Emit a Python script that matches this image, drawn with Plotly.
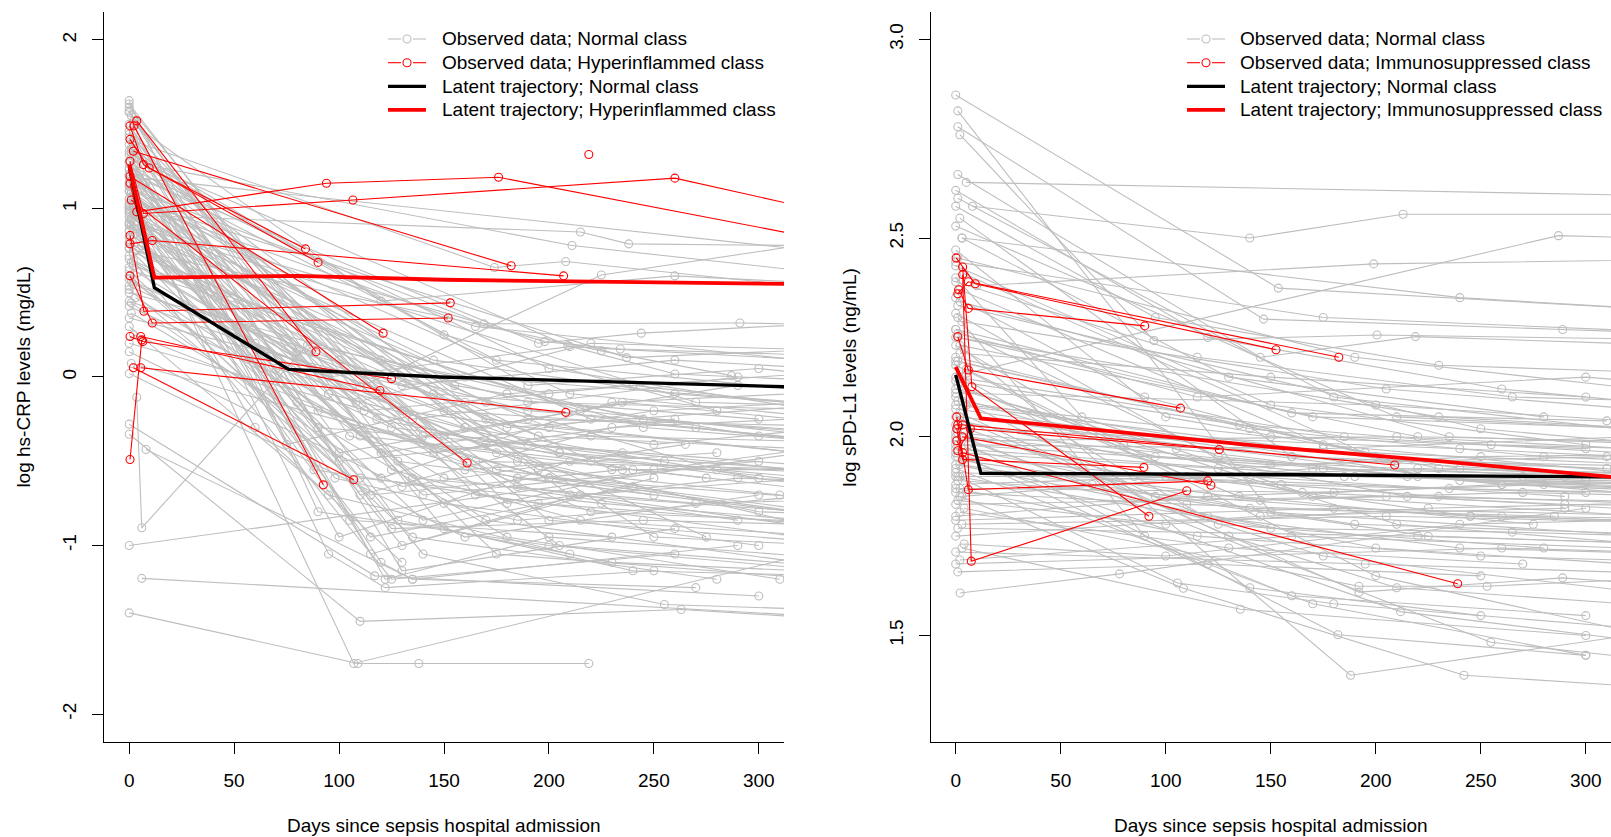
import plotly.graph_objects as go

# ---------------- hs-CRP panel (left) ----------------
# observed trajectories, one subject per inner list of (day, log value)
crp_normal = [
    [(0, 1.62), (118, -0.25), (240, -0.55), (420, -0.8)],
    [(0, 1.58), (95, -0.1), (205, -0.45), (380, -0.6)],
    [(1, 1.55), (130, -1.15), (260, -0.9)],
    [(0, 1.5), (110, -0.7), (230, -0.3), (400, -0.2)],
    [(2, 1.45), (140, -0.35), (290, -0.05)],
    [(0, 1.42), (60, 0.2), (175, -0.45), (330, -0.9)],
    [(3, 1.4), (122, -1.2), (200, -0.95), (360, -1.1)],
    [(0, 1.38), (88, -0.55), (195, -0.75), (410, -0.95)],
    [(1, 1.35), (150, 0.25), (280, -0.2)],
    [(0, 1.32), (115, -1.05), (250, -0.6)],
    [(4, 1.3), (160, -0.15), (340, -0.4)],
    [(0, 1.28), (75, -0.4), (180, -0.1), (360, 0.05)],
    [(2, 1.26), (128, -0.85), (230, -1.1), (410, -1.2)],
    [(0, 1.24), (200, 0.05), (380, -0.3)],
    [(5, 1.22), (100, -0.95), (210, -0.5)],
    [(0, 1.2), (135, -0.6), (270, -0.75), (420, -0.7)],
    [(1, 1.18), (170, -0.25), (320, -0.45)],
    [(0, 1.16), (120, -1.1), (135, -1.2), (290, -1.0)],
    [(3, 1.15), (90, -0.3), (235, -0.45), (400, -0.65)],
    [(0, 1.13), (155, -0.05), (300, -0.35)],
    [(6, 1.12), (108, -0.15), (220, 0.2), (360, 0.15)],
    [(0, 1.1), (125, -0.9), (245, -0.85), (400, -0.9)],
    [(2, 1.08), (80, 0.15), (190, -0.2), (350, -0.35)],
    [(0, 1.06), (140, -1.05), (255, -1.35), (380, -1.4)],
    [(1, 1.05), (210, -0.1), (340, -0.25)],
    [(0, 1.03), (98, -0.6), (185, -0.85), (330, -0.7)],
    [(4, 1.02), (165, 0.3), (320, 0.1)],
    [(0, 1.0), (112, -0.2), (240, -0.05), (420, -0.3)],
    [(0, 0.98), (130, -1.0), (215, -0.7), (380, -0.55)],
    [(2, 0.97), (70, 0.05), (160, -0.3), (300, -0.6)],
    [(0, 0.95), (190, -0.4), (350, -0.55)],
    [(5, 0.94), (145, 0.1), (260, -0.1), (420, -0.25)],
    [(0, 0.92), (105, -0.85), (230, -0.95)],
    [(1, 0.9), (175, -0.55), (330, -0.8)],
    [(0, 0.86), (120, -0.45), (250, -0.2), (400, -0.1)],
    [(3, 0.85), (90, -0.2), (200, -0.6), (380, -0.9)],
    [(0, 0.83), (150, -0.75), (300, -1.0)],
    [(0, 0.8), (160, -0.55), (280, -0.45)],
    [(6, 0.78), (135, -0.25), (290, 0.0)],
    [(0, 0.76), (110, -0.6), (225, -0.75), (420, -0.95)],
    [(2, 0.74), (200, -0.3), (360, -0.5)],
    [(0, 0.72), (125, -1.2), (260, -1.05)],
    [(0, 0.7), (95, 0.0), (210, 0.18), (400, 0.05)],
    [(1, 0.68), (185, -0.65), (330, -0.9)],
    [(0, 0.65), (140, -0.4), (275, -0.6)],
    [(4, 0.62), (245, -0.3), (400, -0.45)],
    [(0, 0.6), (100, -0.5), (220, -0.35), (380, -0.4)],
    [(0, 0.58), (170, -0.85), (320, -1.1)],
    [(2, 0.55), (130, -0.05), (260, 0.1), (400, 0.0)],
    [(0, 0.52), (115, -0.7), (235, -0.55)],
    [(0, 0.5), (190, -0.15), (350, -0.2)],
    [(3, 0.47), (150, -0.6), (290, -0.85)],
    [(0, 0.45), (205, -0.45), (380, -0.7)],
    [(0, 0.42), (125, -0.3), (255, -0.5)],
    [(1, 0.38), (180, -0.95), (310, -1.2)],
    [(0, 0.35), (145, -0.1), (300, -0.25)],
    [(0, 0.3), (95, -0.7), (210, -1.05)],
    [(2, 0.25), (220, -0.8), (400, -0.9)],
    [(0, 0.2), (170, -0.4), (330, -0.65)],
    [(0, 0.15), (130, -0.65), (265, -0.4)],
    [(1, 0.08), (200, -0.6), (360, -0.75)],
    [(0, 0.02), (160, -0.95), (300, -0.7)],
    [(5, 1.18), (400, 0.65)],
    [(3, 0.96), (215, 0.86), (238, 0.79), (400, 0.77)],
    [(7, 1.26), (211, 0.78), (380, 0.55)],
    [(2, 1.4), (174, 0.65), (208, 0.685), (350, 0.5)],
    [(0, 0.9), (110, -0.06), (225, 0.605), (400, 0.93)],
    [(4, 1.1), (169, 0.315), (291, 0.32), (400, 0.3)],
    [(0, 1.2), (195, 0.2), (244, 0.26), (380, 0.35)],
    [(6, 0.9), (198, 0.21), (234, 0.166), (400, 0.1)],
    [(1, 1.3), (209, 0.186), (260, 0.018), (380, -0.05)],
    [(3, 0.75), (225, 0.155), (287, 0.008)],
    [(0, 1.05), (237, 0.115), (400, 0.2)],
    [(2, 1.5), (120, 0.45), (260, 0.6), (420, 0.5)],
    [(0, -1.4), (109, -1.7), (138, -1.7), (219, -1.7)],
    [(1, 1.1), (107, -1.7), (340, -1.0)],
    [(0, -1.0), (350, -0.4)],
    [(6, -1.195), (400, -1.47)],
    [(0, -0.28), (117, -1.18), (300, -1.3)],
    [(3.6, -0.12), (6, -0.895), (85, 0.19), (200, -0.1)],
    [(0, -0.34), (110, -1.45), (263, -1.38), (420, -1.5)],
    [(8, -0.43), (135, -1.2), (270, -1.25)],
    [(0, 1.46), (105, -0.35), (185, -0.6), (350, -0.85)],
    [(1, 1.36), (150, -0.9), (240, -1.15), (400, -1.2)],
    [(0, 1.27), (80, -0.15), (165, -0.5), (330, -0.55)],
    [(2, 1.21), (175, 0.1), (340, -0.1)],
    [(0, 1.11), (210, -0.7), (380, -0.85)],
    [(3, 1.07), (120, 0.1), (245, -0.25), (420, -0.4)],
    [(0, 0.99), (140, -0.7), (300, -0.5)],
    [(1, 0.93), (100, -0.45), (190, -0.25), (360, -0.3)],
    [(0, 0.87), (160, 0.0), (320, -0.15)],
    [(5, 0.82), (115, -0.95), (240, -0.65)],
    [(0, 0.77), (230, -0.55), (400, -0.55)],
    [(2, 0.69), (180, -0.3), (350, -0.15)],
    [(0, 0.63), (135, -0.95), (280, -1.2)],
    [(1, 0.57), (150, -0.2), (270, -0.3), (420, -0.5)],
    [(0, 1.64), (90, -0.8), (200, -1.0), (380, -1.2)],
    [(0, 1.6), (100, 0.1), (195, -0.35), (360, -0.45)],
    [(2, 1.52), (128, -0.5), (250, -0.7)],
    [(0, 1.44), (165, -0.7), (320, -0.95)],
    [(1, 1.33), (190, -0.05), (300, 0.05), (420, -0.1)],
    [(0, 1.23), (145, -0.45), (260, -0.25)],
    [(8, 1.15), (95, -1.05), (122, -1.25), (250, -1.15)],
    [(0, 1.02), (60, -0.3), (130, -1.1)],
    [(6, 0.96), (250, -0.95), (420, -1.05)],
    [(0, 0.91), (270, -0.15), (420, -0.2)],
    [(3, 0.8), (205, -1.0), (360, -1.15)],
    [(0, 1.57), (125, -0.55), (215, -0.85), (400, -1.0)],
    [(2, 1.37), (180, -0.75), (290, -0.6), (420, -0.65)],
    [(0, 1.19), (150, -0.35), (235, -0.15), (400, -0.35)],
    [(1, 1.09), (200, -0.85), (350, -1.0)],
    [(0, 0.97), (110, -0.35), (220, -0.5), (380, -0.6)],
    [(4, 0.88), (170, -0.15), (280, -0.55), (420, -0.7)],
    [(0, 0.79), (140, -0.85), (250, -0.55), (400, -0.3)],
    [(2, 0.66), (215, -0.2), (330, -0.35)],
    [(0, 0.54), (185, -0.5), (300, -0.8), (420, -0.85)],
    [(1, 0.44), (120, -0.6), (230, -0.15), (400, -0.05)],
    [(0, 1.34), (160, -0.3), (275, -0.95)],
    [(3, 1.25), (195, -0.55), (310, -0.7), (420, -0.8)],
    [(0, 1.14), (130, -0.2), (250, -0.4), (380, -0.25)],
    [(0, 1.01), (175, -1.05), (330, -1.2)],
    [(1, 0.94), (220, -0.25), (400, -0.45)],
]

crp_hyper = [
    [(0.4, 1.15), (3.6, 0.98), (94, 1.15), (176, 1.185), (360, 0.745)],
    [(0.4, 1.28), (6.8, 0.97), (106.6, 1.05), (260, 1.18), (350, 0.93)],
    [(0.4, 1.41), (9.5, 1.24), (84, 0.76)],
    [(0.4, 1.49), (6.8, 1.26), (90, 0.68)],
    [(2, 1.34), (182, 0.66)],
    [(0.4, 0.79), (11, 0.81), (207, 0.6)],
    [(0.4, 0.84), (7, 0.39), (153, 0.44)],
    [(0.4, 0.6), (11, 0.32), (152, 0.35)],
    [(0.4, 1.19), (121, 0.26)],
    [(3.6, 1.52), (89, 0.15)],
    [(0.4, 0.24), (6.5, 0.21), (125, -0.01)],
    [(5.5, 0.24), (119.5, -0.08)],
    [(5.5, 0.055), (208, -0.21)],
    [(1, 1.05), (161, -0.51)],
    [(2.3, 1.49), (92.5, -0.64)],
    [(2, 0.055), (107, -0.61)],
    [(0.4, -0.49), (6, 0.22)],
    [(219, 1.32)],
]

crp_latent_days = [0, 12, 76, 148, 312]
crp_latent_normal = [1.25, 0.53, 0.045, 0.0, -0.058]
crp_latent_hyper_days = [0, 12, 80, 150, 312]
crp_latent_hyper = [1.26, 0.59, 0.60, 0.577, 0.552]

crp_ticks = [-2, -1, 0, 1, 2]
crp_ticktext = ["-2", "-1", "0", "1", "2"]

crp_legend = ["Observed data; Normal class",
              "Observed data; Hyperinflammed class",
              "Latent trajectory; Normal class",
              "Latent trajectory; Hyperinflammed class"]

# ---------------- sPD-L1 panel (right) ----------------
pdl1_normal = [
    [(1, 2.82), (150, 1.81), (330, 1.75)],
    [(5, 2.64), (400, 2.6)],
    [(8, 2.58), (140, 2.5), (213, 2.56), (400, 2.56)],
    [(5, 2.16), (287, 2.506), (400, 2.49)],
    [(10, 2.38), (199, 2.435), (400, 2.45)],
    [(0, 2.86), (153.6, 2.374), (400, 2.3)],
    [(1, 2.78), (146.6, 2.296), (289, 2.27), (400, 2.25)],
    [(2, 2.76), (94.4, 2.242), (200.6, 2.256), (400, 2.24)],
    [(1, 2.66), (145, 2.2), (218.9, 2.252), (400, 2.22)],
    [(2.1, 1.607), (78, 1.655), (300, 1.82)],
    [(3, 1.72), (135.5, 1.566), (300, 1.5)],
    [(4, 2.22), (188, 1.4), (400, 1.56)],
    [(2, 1.85), (108.4, 1.619), (242, 1.4), (330, 1.37)],
    [(6, 1.98), (182, 1.502), (300, 1.45)],
    [(3, 2.0), (254.8, 1.483), (400, 1.4)],
    [(1, 1.95), (211.8, 1.56), (380, 1.45)],
    [(4, 1.82), (192, 1.624), (253, 1.624), (400, 1.66)],
    [(0, 2.05), (192, 1.609), (289, 1.645), (400, 1.6)],
    [(1, 1.9), (105.6, 1.632), (180, 1.58), (320, 1.52)],
    [(0, 2.62), (120, 2.25), (260, 2.12), (400, 2.05)],
    [(1, 2.6), (180, 2.1), (350, 2.0)],
    [(0, 2.58), (95, 2.3), (230, 2.18), (400, 2.15)],
    [(2, 2.55), (160, 1.95), (320, 1.9)],
    [(0, 2.53), (210, 2.05), (400, 2.0)],
    [(3, 2.5), (130, 2.15), (280, 2.05)],
    [(0, 2.47), (100, 2.05), (240, 1.92), (400, 1.88)],
    [(1, 2.45), (190, 2.2), (360, 2.1)],
    [(0, 2.43), (150, 2.08), (300, 1.98)],
    [(4, 2.41), (220, 1.9), (400, 1.85)],
    [(0, 2.39), (115, 2.2), (265, 2.1), (400, 2.08)],
    [(2, 2.37), (175, 1.98), (340, 1.9)],
    [(0, 2.35), (90, 2.1), (200, 1.95), (380, 1.9)],
    [(1, 2.33), (250, 2.02), (400, 1.95)],
    [(0, 2.31), (140, 1.9), (290, 1.85)],
    [(3, 2.29), (205, 2.12), (370, 2.05)],
    [(0, 2.27), (125, 1.95), (260, 1.88), (400, 1.85)],
    [(1, 2.25), (170, 2.05), (330, 2.02)],
    [(0, 2.23), (80, 1.98), (215, 1.85), (380, 1.8)],
    [(2, 2.21), (150, 2.15), (300, 2.1)],
    [(0, 2.19), (230, 1.92), (400, 1.9)],
    [(5, 2.17), (110, 1.9), (245, 1.8), (400, 1.78)],
    [(0, 2.15), (185, 2.0), (350, 1.95)],
    [(1, 2.13), (135, 1.85), (275, 1.78)],
    [(0, 2.11), (200, 2.08), (380, 2.02)],
    [(3, 2.09), (95, 1.85), (225, 1.75), (400, 1.72)],
    [(0, 2.07), (160, 1.95), (310, 1.92)],
    [(2, 2.05), (260, 1.88), (400, 1.86)],
    [(0, 2.03), (120, 1.8), (240, 1.72), (380, 1.7)],
    [(1, 2.01), (175, 1.92), (340, 1.85)],
    [(0, 1.99), (210, 2.0), (400, 1.95)],
    [(4, 1.97), (140, 1.82), (285, 1.8)],
    [(0, 1.95), (100, 1.9), (230, 1.85), (400, 1.82)],
    [(2, 1.93), (190, 1.78), (360, 1.75)],
    [(0, 1.91), (155, 1.88), (300, 1.86)],
    [(1, 1.89), (245, 1.8), (400, 1.78)],
    [(0, 1.87), (115, 1.75), (250, 1.7), (380, 1.68)],
    [(3, 1.85), (170, 1.92), (330, 1.9)],
    [(0, 1.83), (205, 1.85), (400, 1.83)],
    [(2, 1.81), (130, 1.72), (270, 1.68)],
    [(0, 1.79), (180, 1.82), (350, 1.8)],
    [(1, 1.77), (220, 1.75), (400, 1.72)],
    [(0, 1.75), (145, 1.8), (290, 1.82)],
    [(4, 1.73), (100, 1.7), (240, 1.78), (400, 1.8)],
    [(0, 1.71), (195, 1.68), (370, 1.65)],
    [(2, 1.69), (160, 1.75), (320, 1.72)],
    [(0, 1.68), (260, 1.72), (400, 1.7)],
    [(1, 1.66), (120, 1.68), (250, 1.65)],
    [(0, 2.0), (65, 1.88), (175, 1.7), (340, 1.6)],
    [(3, 2.12), (210, 1.78), (400, 1.7)],
    [(0, 2.2), (140, 2.02), (280, 1.95), (420, 1.92)],
    [(1, 2.3), (90, 1.75), (160, 1.6), (300, 1.55)],
    [(0, 2.25), (230, 2.05), (400, 2.0)],
    [(2, 1.9), (270, 1.9), (420, 1.88)],
    [(0, 1.97), (185, 1.9), (360, 1.88)],
    [(5, 2.08), (150, 2.0), (300, 1.97)],
    [(0, 1.86), (110, 1.83), (260, 1.8), (400, 1.79)],
    [(1, 2.02), (240, 1.97), (400, 1.93)],
    [(0, 1.93), (200, 1.72), (380, 1.66)],
    [(3, 2.15), (125, 1.78), (280, 1.72)],
    [(0, 2.4), (60, 2.05), (170, 1.85), (330, 1.8)],
    [(2, 2.34), (235, 2.0), (400, 1.97)],
    [(0, 2.1), (95, 1.95), (290, 1.9)],
    [(1, 1.98), (150, 1.93), (310, 1.95)],
    [(0, 1.88), (220, 1.92), (380, 1.9)],
    [(4, 1.95), (140, 1.62), (250, 1.55)],
    [(0, 2.18), (200, 1.65), (330, 1.5)],
    [(2, 2.06), (130, 1.75), (210, 1.62), (400, 1.55)],
    [(0, 1.92), (170, 1.58), (300, 1.45)],
    [(1, 2.26), (115, 2.1), (300, 2.15), (420, 2.1)],
    [(0, 2.44), (175, 2.3), (400, 2.25)],
    [(3, 2.5), (240, 2.35), (400, 2.3)],
    [(0, 2.12), (105, 1.97), (215, 1.9), (400, 1.88)],
    [(2, 2.04), (165, 1.86), (290, 1.83), (420, 1.82)],
    [(0, 1.96), (125, 1.92), (250, 1.95), (400, 1.96)],
    [(1, 2.19), (195, 1.96), (330, 1.93)],
    [(0, 2.01), (85, 1.9), (235, 1.87), (400, 1.85)],
    [(3, 1.94), (145, 1.84), (270, 1.86), (420, 1.84)],
    [(0, 2.08), (210, 1.94), (380, 1.92)],
    [(2, 1.87), (180, 1.86), (300, 1.89), (400, 1.9)],
    [(0, 2.14), (135, 2.03), (255, 1.98), (400, 1.96)],
    [(1, 1.84), (100, 1.78), (225, 1.82), (380, 1.84)],
    [(0, 2.27), (160, 2.06), (310, 2.04)],
    [(4, 2.0), (190, 1.9), (400, 1.87)],
    [(0, 1.8), (120, 1.85), (280, 1.88), (420, 1.9)],
    [(2, 2.23), (220, 2.0), (400, 1.98)],
    [(0, 1.9), (150, 1.77), (265, 1.76), (400, 1.74)],
    [(1, 2.09), (240, 1.89), (420, 1.86)],
    [(0, 1.98), (175, 1.97), (320, 2.0)],
    [(3, 1.78), (205, 1.8), (380, 1.78)],
]

pdl1_immuno = [
    [(0.2, 2.45), (9.3, 2.385), (152.5, 2.219)],
    [(1, 2.36), (6, 2.39), (182.4, 2.2)],
    [(1.4, 2.37), (6, 2.323), (90, 2.279)],
    [(1, 2.252), (6, 2.168), (107, 2.072)],
    [(3.3, 2.408), (7.4, 1.687), (110, 1.864)],
    [(0.5, 2.05), (6, 1.867), (120, 1.889)],
    [(3, 2.0), (121.5, 1.878)],
    [(0.5, 2.02), (3.3, 1.943), (89.6, 1.923)],
    [(3.3, 2.427), (7.7, 2.126), (92, 1.8)],
    [(1, 1.965), (7, 2.02), (125.5, 1.968)],
    [(1, 2.03), (3.3, 2.03), (209, 1.929)],
    [(0.5, 1.99), (3.3, 1.96), (239, 1.63)],
]

pdl1_latent_days = [0, 12, 150, 312]
pdl1_latent_normal = [2.156, 1.908, 1.905, 1.899]
pdl1_latent_immuno_days = [0, 12, 148, 225, 312]
pdl1_latent_immuno = [2.176, 2.046, 1.975, 1.941, 1.899]

pdl1_ticks = [1.5, 2.0, 2.5, 3.0]
pdl1_ticktext = ["1.5", "2.0", "2.5", "3.0"]

pdl1_legend = ["Observed data; Normal class",
               "Observed data; Immunosuppressed class",
               "Latent trajectory; Normal class",
               "Latent trajectory; Immunosuppressed class"]

day_ticks = [0, 50, 100, 150, 200, 250, 300]
x_title = "Days since sepsis hospital admission"

GRAY = "#BEBEBE"
RED = "#FF0000"
FONT = "Arial, Liberation Sans, sans-serif"
W, H = 1611, 837


def flatten(subjects):
    xs, ys = [], []
    for subj in subjects:
        for d, v in subj:
            xs.append(d)
            ys.append(v)
        xs.append(None)
        ys.append(None)
    return xs, ys


def observed(subjects, color, name, xa, ya):
    xs, ys = flatten(subjects)
    return go.Scatter(
        x=xs, y=ys, mode="lines+markers", name=name, xaxis=xa, yaxis=ya,
        line=dict(color=color, width=1.1),
        marker=dict(symbol="circle-open", size=8, color=color, line=dict(width=1.1)),
        connectgaps=False, hoverinfo="skip", showlegend=False,
    )


def latent(days, vals, color, width, name, xa, ya):
    return go.Scatter(
        x=days, y=vals, mode="lines", name=name, xaxis=xa, yaxis=ya,
        line=dict(color=color, width=width), hoverinfo="skip", showlegend=False,
    )


def px(xp, yp):
    """pixel position (from top-left) -> paper coordinates"""
    return xp / W, 1 - yp / H


def legend_block(labels, key_left, text_left, row_tops):
    """R-style legend: key samples drawn as shapes, labels as text."""
    shapes, annots = [], []
    styles = [(GRAY, 1.1, True), (RED, 1.1, True), ("black", 3.3, False), (RED, 3.8, False)]
    for label, yc, (col, lw, circ) in zip(labels, row_tops, styles):
        cx = key_left + 19
        _, y = px(0, yc)
        if circ:
            for a, b in ((key_left, cx - 6), (cx + 6, key_left + 38)):
                shapes.append(dict(type="line", xref="paper", yref="paper",
                                   x0=a / W, x1=b / W, y0=y, y1=y,
                                   line=dict(color=col, width=lw)))
            shapes.append(dict(type="circle", xref="paper", yref="paper",
                               x0=(cx - 4) / W, x1=(cx + 4) / W,
                               y0=1 - (yc + 4) / H, y1=1 - (yc - 4) / H,
                               line=dict(color=col, width=1.1)))
        else:
            shapes.append(dict(type="line", xref="paper", yref="paper",
                               x0=key_left / W, x1=(key_left + 38) / W, y0=y, y1=y,
                               line=dict(color=col, width=lw)))
        annots.append(dict(text=label, x=text_left / W, y=y, xref="paper", yref="paper",
                           showarrow=False, xanchor="left", yanchor="middle",
                           font=dict(family=FONT, size=19, color="black")))
    return shapes, annots


fig = go.Figure()
fig.add_trace(observed(crp_normal, GRAY, crp_legend[0], "x", "y"))
fig.add_trace(observed(crp_hyper, RED, crp_legend[1], "x", "y"))
fig.add_trace(latent(crp_latent_days, crp_latent_normal, "black", 3.3, crp_legend[2], "x", "y"))
fig.add_trace(latent(crp_latent_hyper_days, crp_latent_hyper, RED, 3.8, crp_legend[3], "x", "y"))

fig.add_trace(observed(pdl1_normal, GRAY, pdl1_legend[0], "x2", "y2"))
fig.add_trace(observed(pdl1_immuno, RED, pdl1_legend[1], "x2", "y2"))
fig.add_trace(latent(pdl1_latent_days, pdl1_latent_normal, "black", 3.3, pdl1_legend[2], "x2", "y2"))
fig.add_trace(latent(pdl1_latent_immuno_days, pdl1_latent_immuno, RED, 3.8, pdl1_legend[3], "x2", "y2"))

y_dom = [(H - 742) / H, (H - 12.3) / H]

axis_common = dict(
    showline=True, linecolor="black", linewidth=1, mirror=False,
    ticks="outside", ticklen=11, tickwidth=1, tickcolor="black",
    showgrid=False, zeroline=False, automargin=False,
    tickfont=dict(family=FONT, size=19, color="black"),
)

rows = [39.0, 62.7, 86.3, 109.9]
s1, a1 = legend_block(crp_legend, 388, 440, rows)
s2, a2 = legend_block(pdl1_legend, 1187, 1238, rows)

titles = [
    dict(text=x_title, x=444 / W, y=(H - 825) / H),
    dict(text=x_title, x=1270.5 / W, y=(H - 825) / H),
    dict(text="log hs-CRP levels (mg/dL)", x=22.6 / W, y=1 - 377 / H, textangle=-90),
    dict(text="log sPD-L1 levels (ng/mL)", x=848.7 / W, y=1 - 377 / H, textangle=-90),
]
for t in titles:
    t.update(xref="paper", yref="paper", showarrow=False, xanchor="center",
             yanchor="middle", font=dict(family=FONT, size=19, color="black"))

fig.update_layout(
    width=W, height=H, autosize=False,
    margin=dict(l=0, r=0, t=0, b=0),
    paper_bgcolor="white", plot_bgcolor="white",
    font=dict(family=FONT, size=19, color="black"),
    showlegend=False,
    xaxis=dict(domain=[104 / W, 784 / W], range=[-12, 312], tickvals=day_ticks,
               anchor="y", ticklabelstandoff=10, **axis_common),
    yaxis=dict(domain=y_dom, range=[-2.166, 2.164], tickvals=crp_ticks, ticktext=crp_ticktext,
               tickangle=-90, anchor="x", ticklabelstandoff=8, **axis_common),
    xaxis2=dict(domain=[930.5 / W, 1.0], range=[-12, 312], tickvals=day_ticks,
                anchor="y2", ticklabelstandoff=10, **axis_common),
    yaxis2=dict(domain=y_dom, range=[1.232, 3.068], tickvals=pdl1_ticks, ticktext=pdl1_ticktext,
                tickangle=-90, anchor="x2", ticklabelstandoff=8, **axis_common),
    shapes=s1 + s2,
    annotations=titles + a1 + a2,
)

fig.write_html("out.html")
